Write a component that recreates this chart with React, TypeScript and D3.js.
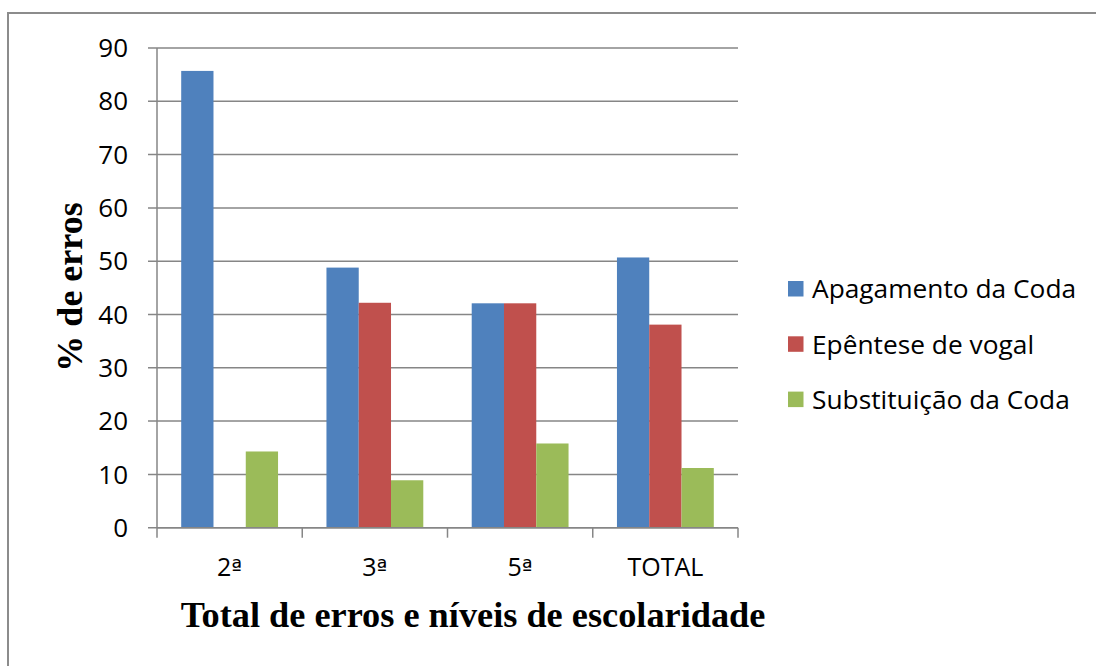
import React, { useRef, useEffect } from 'react';
import * as d3 from 'd3';

const categories = ['2ª', '3ª', '5ª', 'TOTAL'];
const seriesNames = ['Apagamento da Coda', 'Epêntese de vogal', 'Substituição da Coda'];
const apagamento = [85.7, 48.8, 42.1, 50.7];
const epentese = [0, 42.2, 42.1, 38.1];
const substituicao = [14.3, 8.9, 15.8, 11.2];
const colors = ['#4F81BD', '#C0504D', '#9BBB59'];
const yTicks = [0, 10, 20, 30, 40, 50, 60, 70, 80, 90];

const sans = "'Open Sans', sans-serif";
const serif = "'Liberation Serif', 'Times New Roman', serif";

function Chart({ width = 1096, height = 666 }) {
  const ref = useRef<SVGSVGElement>(null);

  useEffect(() => {
    const svg = d3.select(ref.current);
    svg.selectAll('*').remove();

    const left = 157, right = 738, top = 48, bottom = 527.7;
    const grey = '#868686';
    const values = [apagamento, epentese, substituicao];

    // outer frame (runs past the right and bottom edges)
    svg.append('rect')
      .attr('x', 8).attr('y', 13)
      .attr('width', width + 20).attr('height', height + 20)
      .attr('fill', 'none').attr('stroke', '#8c8c8c').attr('stroke-width', 2);

    const x = d3.scaleBand().domain(categories).range([left, right]).padding(0);
    const xs = d3.scaleBand().domain(seriesNames).range([0, x.bandwidth()])
      .paddingInner(0).paddingOuter(0.75);
    const y = d3.scaleLinear().domain([0, 90]).range([bottom, top]);

    // gridlines + y ticks
    const yg = svg.append('g');
    yg.selectAll('line.grid').data(yTicks).enter().append('line')
      .attr('x1', left - 9).attr('x2', right)
      .attr('y1', (d) => y(d)).attr('y2', (d) => y(d))
      .attr('stroke', grey).attr('stroke-width', 1.5);
    yg.selectAll('text').data(yTicks).enter().append('text')
      .attr('x', 128).attr('y', (d) => y(d))
      .attr('dy', '0.35em')
      .attr('text-anchor', 'end')
      .attr('font-family', sans).attr('font-size', 26).attr('fill', '#000')
      .text((d) => d);

    // bars
    values.forEach((vals, si) => {
      svg.append('g').selectAll('rect').data(vals).enter().append('rect')
        .attr('x', (d, i) => (x(categories[i]) as number) + (xs(seriesNames[si]) as number))
        .attr('y', (d) => y(d))
        .attr('width', xs.bandwidth())
        .attr('height', (d) => bottom - y(d))
        .attr('fill', colors[si]);
    });

    // axes lines
    svg.append('line')
      .attr('x1', left).attr('x2', left).attr('y1', top).attr('y2', bottom)
      .attr('stroke', grey).attr('stroke-width', 1.5);
    svg.append('line')
      .attr('x1', left).attr('x2', right).attr('y1', bottom).attr('y2', bottom)
      .attr('stroke', grey).attr('stroke-width', 1.5);
    const xTickPos = categories.map((c) => x(c) as number).concat([right]);
    svg.append('g').selectAll('line').data(xTickPos).enter().append('line')
      .attr('x1', (d) => d).attr('x2', (d) => d)
      .attr('y1', bottom).attr('y2', bottom + 10)
      .attr('stroke', grey).attr('stroke-width', 1.5);

    // x labels (ordinal indicator in DejaVu, whose ª carries the bar)
    const xl = svg.append('g').selectAll('text').data(categories).enter().append('text')
      .attr('x', (d) => (x(d) as number) + x.bandwidth() / 2)
      .attr('y', 576)
      .attr('text-anchor', 'middle')
      .attr('font-family', sans).attr('font-size', 25).attr('fill', '#000');
    xl.each(function (d) {
      const t = d3.select(this);
      if (d.endsWith('ª')) {
        t.append('tspan').text(d.slice(0, -1));
        t.append('tspan').attr('font-family', "'DejaVu Sans', sans-serif").attr('font-size', 23).text('ª');
      } else {
        t.text(d);
      }
    });

    // axis titles
    svg.append('text')
      .attr('x', 473).attr('y', 627)
      .attr('text-anchor', 'middle')
      .attr('font-family', serif).attr('font-weight', 'bold').attr('font-size', 36.3)
      .text('Total de erros e níveis de escolaridade');
    svg.append('text')
      .attr('transform', 'translate(81.5,287) rotate(-90)')
      .attr('text-anchor', 'middle')
      .attr('font-family', serif).attr('font-weight', 'bold').attr('font-size', 36)
      .text('% de erros');

    // legend
    const lg = svg.append('g').selectAll('g').data(seriesNames).enter().append('g')
      .attr('transform', (d, i) => `translate(788,${281 + i * 55.3})`);
    lg.append('rect').attr('width', 15.5).attr('height', 15.5)
      .attr('fill', (d, i) => colors[i]);
    lg.append('text')
      .attr('x', 24).attr('y', 8)
      .attr('dy', '0.35em')
      .attr('font-family', sans).attr('font-size', 26.3).attr('fill', '#000')
      .text((d) => d);
  }, [width, height]);

  return (
    <svg ref={ref} width={width} height={height}
      style={{ position: 'absolute', left: 0, top: 0, background: '#fff' }}></svg>
  );
}

export default function App() {
  return <Chart />;
}
